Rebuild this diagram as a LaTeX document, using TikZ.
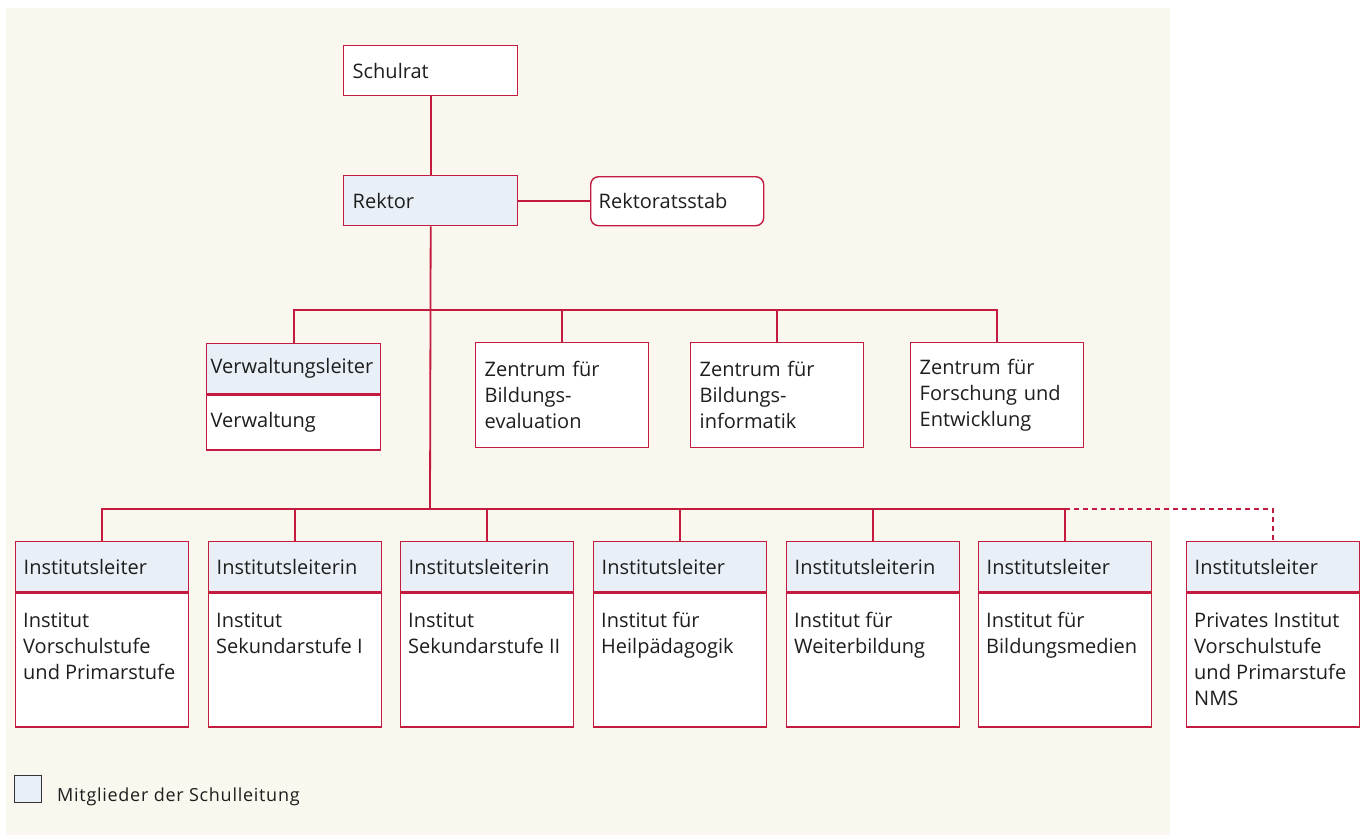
\documentclass[tikz,border=0pt]{standalone}
\usepackage{fontspec}
\setmainfont{Open Sans}
\usetikzlibrary{calc}
\definecolor{bgc}{HTML}{FAF7EF}
\definecolor{redc}{HTML}{C31A3F}
\definecolor{hdrc}{HTML}{E9EFF6}
\definecolor{txtc}{HTML}{1E1E1E}
\tikzset{
  conn/.style={draw=redc, line width=1.8pt},
  basebox/.style={draw=redc, line width=1.4pt, anchor=north west, inner ysep=0pt,
    align=left, text=txtc, font=\fontsize{20}{26}\selectfont},
  plainbox/.style={basebox, fill=white, minimum width=174pt, minimum height=50pt, text width=156pt, inner xsep=9pt},
  leadbox/.style={basebox, fill=hdrc, minimum width=174pt, minimum height=50pt, text width=156pt, inner xsep=9pt},
  hdr/.style={basebox, fill=hdrc, minimum width=173pt, minimum height=50pt, text width=157pt, inner xsep=8pt},
  bodybox/.style={basebox, fill=white, minimum width=173pt, minimum height=134pt, inner xsep=0pt},
  bodytxt/.style={anchor=north west, inner sep=0pt, align=left, text=txtc, font=\fontsize{20}{26}\selectfont},
  zbox/.style={basebox, fill=white, minimum width=173pt, minimum height=105pt, text width=155pt, inner xsep=9pt},
}
\newcommand\instbox[4]{%
  \node[hdr] (h#1) at (#2,541) {#3};
  \node[bodybox] (b#1) at (h#1.south west) {};
  \node[bodytxt] (t#1) at ([xshift=8pt,yshift=-20pt]b#1.north west) {#4};
}
\begin{document}
\begin{tikzpicture}[x=1pt,y=-1pt]
\useasboundingbox (0,0) rectangle (1366,836);
\fill[bgc] (6,8) rectangle (1170,835);
% top
\node[plainbox] (schulrat) at (343,45) {Schulrat};
\node[leadbox] (rektor) at (343,175) {Rektor};
\node[basebox, fill=white, rounded corners=8pt, minimum width=173pt, minimum height=49pt, text width=157pt, inner xsep=8pt] (stab) at (590,176) {Rektoratsstab};
% middle
\node[basebox, fill=hdrc, minimum width=174pt, minimum height=50pt, text width=166pt, inner xsep=4pt] (vh) at (206,343) {Verwaltungsleiter};
\node[basebox, fill=white, minimum width=174pt, minimum height=55pt, text width=166pt, inner xsep=4pt] (vb) at (vh.south west) {Verwaltung};
\node[zbox] (z1) at (475,342) {Zentrum für\\Bildungs-\\evaluation};
\node[zbox] (z2) at (690,342) {Zentrum für\\Bildungs-\\informatik};
\node[zbox] (z3) at (910,342) {Zentrum für\\Forschung und\\Entwicklung};
% bottom
\instbox{1}{15}{Institutsleiter}{Institut\\Vorschulstufe\\und Primarstufe}
\instbox{2}{208}{Institutsleiterin}{Institut\\Sekundarstufe I}
\instbox{3}{400}{Institutsleiterin}{Institut\\Sekundarstufe II}
\instbox{4}{593}{Institutsleiter}{Institut für\\Heilpädagogik}
\instbox{5}{786}{Institutsleiterin}{Institut für\\Weiterbildung}
\instbox{6}{978}{Institutsleiter}{Institut für\\Bildungsmedien}
\instbox{7}{1186}{Institutsleiter}{Privates Institut\\Vorschulstufe\\und Primarstufe\\NMS}
% connectors
\coordinate (j1) at (430,310);
\coordinate (j2) at (430,509);
\draw[conn] (schulrat.south) -- (rektor.north);
\draw[conn] (rektor.east) -- (rektor.east -| stab.west);
\draw[conn] (rektor.south) -- (j2);
\draw[conn] (vh.north) |- (z3.north |- j1) -- (z3.north);
\draw[conn] (z1.north) -- (z1.north |- j1);
\draw[conn] (z2.north) -- (z2.north |- j1);
\draw[conn] (h1.north) |- (h6.north |- j2) -- (h6.north);
\foreach \i in {2,3,4,5} {\draw[conn] (h\i.north) -- (h\i.north |- j2);}
\draw[conn, dashed, dash pattern=on 5pt off 4pt] (h6.north |- j2) -| (h7.north);
% legend
\node[draw=black!80, line width=1pt, fill=hdrc, anchor=north west, minimum width=27pt, minimum height=27pt, inner sep=0pt] (leg) at (14,775) {};
\node[anchor=west, inner sep=0pt, text=txtc, font=\fontsize{18}{22}\selectfont\addfontfeatures{LetterSpace=4}] (legtxt) at (57,797) {Mitglieder der Schulleitung};
\end{tikzpicture}
\end{document}
